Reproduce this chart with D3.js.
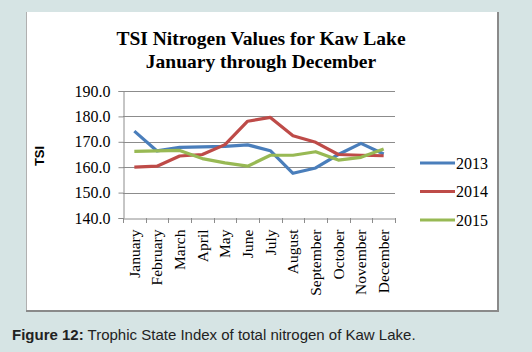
<!DOCTYPE html>
<html>
<head>
<meta charset="utf-8">
<script src="https://cdn.jsdelivr.net/npm/d3@7"></script>
<style>
  body { margin: 0; background: #d6e4e4; }
</style>
</head>
<body>
<script>
// chart data
let months = ["January","February","March","April","May","June","July","August","September","October","November","December"];
let years = ["2013","2014","2015"];
let tsi2013 = [174.2, 166.4, 167.8, 168.0, 168.2, 168.8, 166.5, 157.6, 159.7, 165.0, 169.4, 165.2];
let tsi2014 = [160.0, 160.4, 164.4, 165.0, 168.9, 178.1, 179.6, 172.4, 169.8, 165.0, 164.7, 164.5];
let tsi2015 = [166.2, 166.4, 166.6, 163.4, 161.7, 160.4, 164.7, 164.7, 166.1, 162.8, 163.9, 167.2];
let yTicks = [140, 150, 160, 170, 180, 190];
let lineColors = ["#4a7ebb", "#be4b48", "#98b954"];

let width = 532, height = 352;

let svg = d3.select("body").append("svg")
  .attr("width", width)
  .attr("height", height)
  .style("display", "block");

// background panel
svg.append("rect").attr("x", 0).attr("y", 0).attr("width", width).attr("height", height).attr("fill", "#d6e4e4");

// chart box
svg.append("rect")
  .attr("x", 26).attr("y", 12).attr("width", 472).attr("height", 299)
  .attr("fill", "#fff");
svg.append("line").attr("x1", 26.5).attr("x2", 26.5).attr("y1", 12).attr("y2", 311).attr("stroke", "#b0b0b0");
svg.append("line").attr("x1", 498).attr("x2", 498).attr("y1", 12).attr("y2", 312).attr("stroke", "#8a8a8a").attr("stroke-width", 2);
svg.append("line").attr("x1", 26).attr("x2", 499).attr("y1", 311).attr("y2", 311).attr("stroke", "#8a8a8a").attr("stroke-width", 2);

// title
let title = svg.append("text")
  .attr("text-anchor", "middle")
  .attr("font-family", "'Liberation Serif', 'Times New Roman', serif")
  .attr("font-weight", "bold")
  .attr("font-size", "19.5px")
  .attr("fill", "#000");
title.append("tspan").attr("x", 261).attr("y", 45).text("TSI Nitrogen Values for Kaw Lake");
title.append("tspan").attr("x", 261).attr("y", 68).text("January through December");

// plot area
let plotLeft = 123, plotRight = 395, plotTop = 91, plotBottom = 218;

let x = d3.scaleBand().domain(months).range([plotLeft, plotRight]);
let y = d3.scaleLinear().domain([140, 190]).range([plotBottom, plotTop]);

// gridlines
svg.append("g")
  .selectAll("line")
  .data(yTicks.slice(1))
  .enter().append("line")
  .attr("x1", plotLeft).attr("x2", plotRight)
  .attr("y1", d => Math.round(y(d)) + 0.5).attr("y2", d => Math.round(y(d)) + 0.5)
  .attr("stroke", "#8c8c8c").attr("stroke-width", 1);

// y axis
let yAxis = svg.append("g")
  .attr("transform", "translate(" + (plotLeft + 0.5) + ",0)")
  .call(d3.axisLeft(y).tickValues(yTicks).tickFormat(d3.format(".1f")).tickSize(5).tickPadding(8));
yAxis.select(".domain").attr("stroke", "#8c8c8c");
yAxis.selectAll(".tick line").attr("stroke", "#8c8c8c");
yAxis.selectAll("text")
  .attr("font-family", "'Liberation Serif', 'Times New Roman', serif")
  .attr("font-size", "16px")
  .attr("fill", "#000");

// x axis
let xAxis = svg.append("g")
  .attr("transform", "translate(0," + (Math.round(plotBottom) + 0.5) + ")")
  .call(d3.axisBottom(x).tickSize(0).tickSizeOuter(0));
xAxis.select(".domain").attr("stroke", "#8c8c8c");
xAxis.selectAll(".tick text")
  .attr("font-family", "'Liberation Serif', 'Times New Roman', serif")
  .attr("font-size", "15.5px")
  .attr("fill", "#000")
  .attr("text-anchor", "end")
  .attr("transform", "rotate(-90)")
  .attr("x", -11)
  .attr("y", 0)
  .attr("dy", "0.35em");

// category boundary ticks
svg.append("g")
  .selectAll("line")
  .data(months.concat(["end"]))
  .enter().append("line")
  .attr("x1", (d, i) => Math.round(plotLeft + i * x.step()) + 0.5)
  .attr("x2", (d, i) => Math.round(plotLeft + i * x.step()) + 0.5)
  .attr("y1", plotBottom).attr("y2", plotBottom + 5)
  .attr("stroke", "#8c8c8c");

// y axis title
svg.append("text")
  .attr("transform", "translate(44,156) rotate(-90)")
  .attr("text-anchor", "middle")
  .attr("font-family", "'Liberation Sans', Arial, sans-serif")
  .attr("font-weight", "bold")
  .attr("font-size", "13px")
  .text("TSI");

// lines
let series = [tsi2013, tsi2014, tsi2015];
let line = d3.line()
  .x((d, i) => x(months[i]) + x.bandwidth() / 2)
  .y(d => y(d));

svg.append("g")
  .selectAll("path")
  .data(series)
  .enter().append("path")
  .attr("d", line)
  .attr("fill", "none")
  .attr("stroke", (d, i) => lineColors[i])
  .attr("stroke-width", 3.2)
  .attr("stroke-linejoin", "round");

// legend
let legend = svg.append("g")
  .selectAll("g")
  .data(years)
  .enter().append("g")
  .attr("transform", (d, i) => "translate(420," + (163 + i * 28.5) + ")");
legend.append("line")
  .attr("x1", 0).attr("x2", 35)
  .attr("stroke", (d, i) => lineColors[i])
  .attr("stroke-width", 3);
legend.append("text")
  .attr("x", 36)
  .attr("dy", "0.35em")
  .attr("font-family", "'Liberation Serif', 'Times New Roman', serif")
  .attr("font-size", "16px")
  .text(d => d);

// caption
let caption = svg.append("text")
  .attr("x", 12).attr("y", 340)
  .attr("font-family", "'Liberation Sans', Arial, sans-serif")
  .attr("font-size", "15px")
  .attr("fill", "#222");
caption.append("tspan").attr("font-weight", "bold").text("Figure 12:");
caption.append("tspan").text(" Trophic State Index of total nitrogen of Kaw Lake.");
</script>
</body>
</html>
